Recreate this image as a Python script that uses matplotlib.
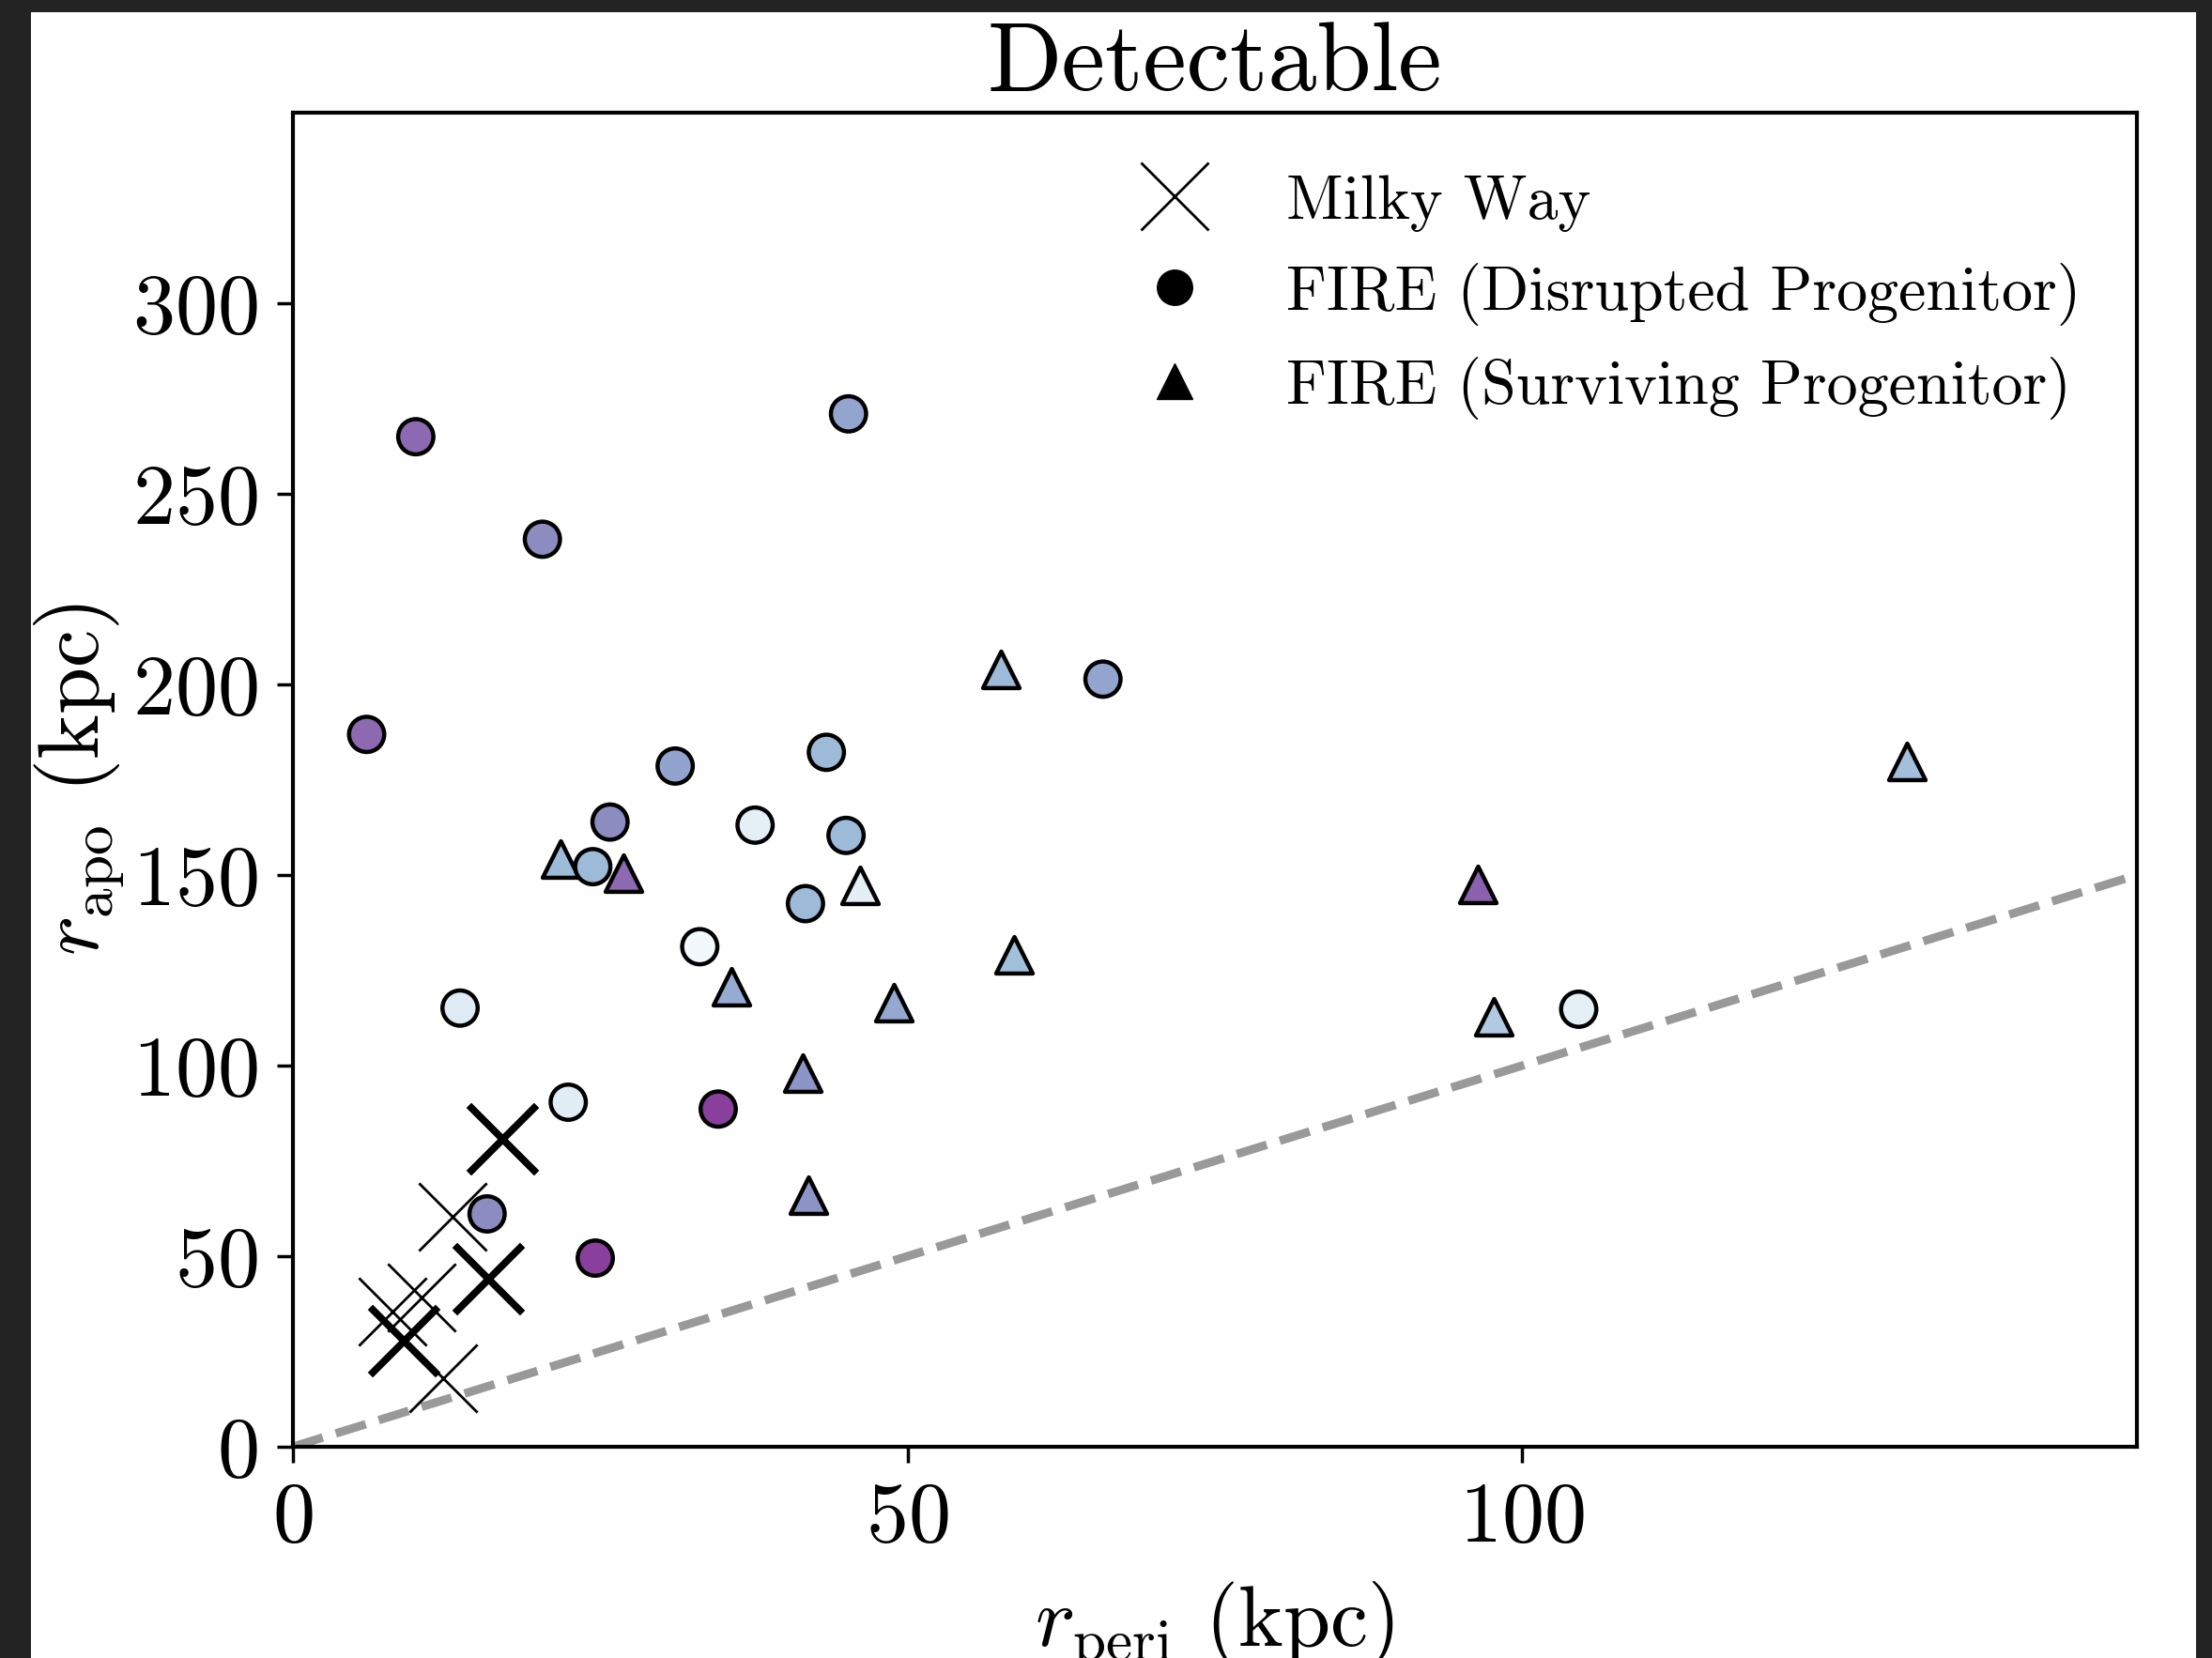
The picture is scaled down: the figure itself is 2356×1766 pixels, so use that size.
import matplotlib
matplotlib.use("Agg")
import matplotlib.pyplot as plt
from matplotlib.lines import Line2D
from matplotlib.patches import Rectangle
import numpy as np

plt.rcParams["font.family"] = "cmr10"
plt.rcParams["mathtext.fontset"] = "cm"
plt.rcParams["axes.formatter.use_mathtext"] = True

# Milky Way streams (thin and bold crosses)
mw_peri_thin = [13.0, 8.1, 10.5, 12.2]
mw_apo_thin = [60.4, 35.5, 39.2, 17.9]
mw_peri_bold = [17.0, 15.9, 9.0]
mw_apo_bold = [80.8, 44.0, 27.9]

# FIRE streams with a disrupted progenitor
dis_peri = [10.0, 20.3, 45.2, 6.0, 65.9, 31.1, 43.4, 25.8, 37.6, 45.0,
            24.4, 41.7, 33.1, 13.6, 104.6, 22.4, 34.6, 15.8, 24.6]
dis_apo = [265.0, 238.1, 271.0, 186.9, 201.4, 178.6, 182.2, 163.9, 163.1, 160.4,
           152.2, 142.5, 131.2, 115.1, 114.8, 90.4, 88.6, 61.1, 49.5]
dis_col = [0.63, 0.53, 0.45, 0.63, 0.45, 0.46, 0.38, 0.53, 0.10, 0.38,
           0.38, 0.38, 0.03, 0.13, 0.10, 0.12, 0.75, 0.53, 0.75]

# FIRE streams with a surviving progenitor
sur_peri = [57.6, 131.3, 21.8, 26.9, 46.1, 96.4, 58.7, 35.7, 48.9, 97.7, 41.5, 41.9]
sur_apo = [204.0, 179.7, 154.2, 150.5, 147.2, 147.5, 129.1, 120.8, 116.4, 112.9, 98.0, 65.9]
sur_col = [0.38, 0.36, 0.38, 0.63, 0.11, 0.66, 0.36, 0.43, 0.44, 0.30, 0.50, 0.50]

x_ticks = [0, 50, 100]
y_ticks = [0, 50, 100, 150, 200, 250, 300]

fig = plt.figure(figsize=(23.56, 17.66), dpi=100, facecolor="#232323")
fig.add_artist(Rectangle((33 / 2356, 0), (2339 - 33) / 2356, (1766 - 13) / 1766,
                         transform=fig.transFigure, facecolor="white",
                         edgecolor="none", zorder=-10))
ax = fig.add_axes([0.1324, 0.1274, 0.8336, 0.8046])

# one-to-one reference line
ax.plot([0, 150], [0, 150], ls="--", color="gray", alpha=0.8, lw=6.5, zorder=1)

ax.scatter(mw_peri_thin, mw_apo_thin, marker="x", s=52 ** 2, c="k",
           linewidths=2.0, zorder=2)
ax.scatter(mw_peri_bold, mw_apo_bold, marker="x", s=52 ** 2, c="k",
           linewidths=5.5, zorder=2)

ax.scatter(dis_peri, dis_apo, marker="o", s=27 ** 2, c=dis_col, cmap="BuPu",
           vmin=0, vmax=1, edgecolors="k", linewidths=3.2, zorder=3)

# triangles are drawn one by one so that the one tucked behind a circle stays beneath it
tucked = {2}
for i, (xp, yp, cv) in enumerate(zip(sur_peri, sur_apo, sur_col)):
    ax.scatter([xp], [yp], marker="^", s=28 ** 2, c=[cv], cmap="BuPu",
               vmin=0, vmax=1, edgecolors="k", linewidths=3.2,
               zorder=2.5 if i in tucked else 4)

ax.set_xlim(0, 150)
ax.set_ylim(0, 350)
ax.set_xticks(x_ticks)
ax.set_yticks(y_ticks)
ax.tick_params(labelsize=65, length=12, width=2.5, pad=15)
for sp in ax.spines.values():
    sp.set_linewidth(3.0)

ax.set_xlabel(r"$r_{\rm peri}$ (kpc)", fontsize=65, labelpad=16)
ax.set_ylabel(r"$r_{\rm apo}$ (kpc)", fontsize=65, labelpad=5)
ax.set_title("Detectable", fontsize=75, pad=17)

handles = [
    Line2D([], [], ls="none", marker="x", color="k", markersize=52, markeredgewidth=2.0),
    Line2D([], [], ls="none", marker="o", color="k", markersize=27),
    Line2D([], [], ls="none", marker="^", color="k", markersize=28),
]
labels = ["Milky Way", "FIRE (Disrupted Progenitor)", "FIRE (Surviving Progenitor)"]
ax.legend(handles, labels, loc="upper right", frameon=False, fontsize=47.5,
          borderaxespad=0.5, bbox_to_anchor=(1.0, 0.9954))

fig.savefig("out.png", dpi=100, facecolor=fig.get_facecolor())
